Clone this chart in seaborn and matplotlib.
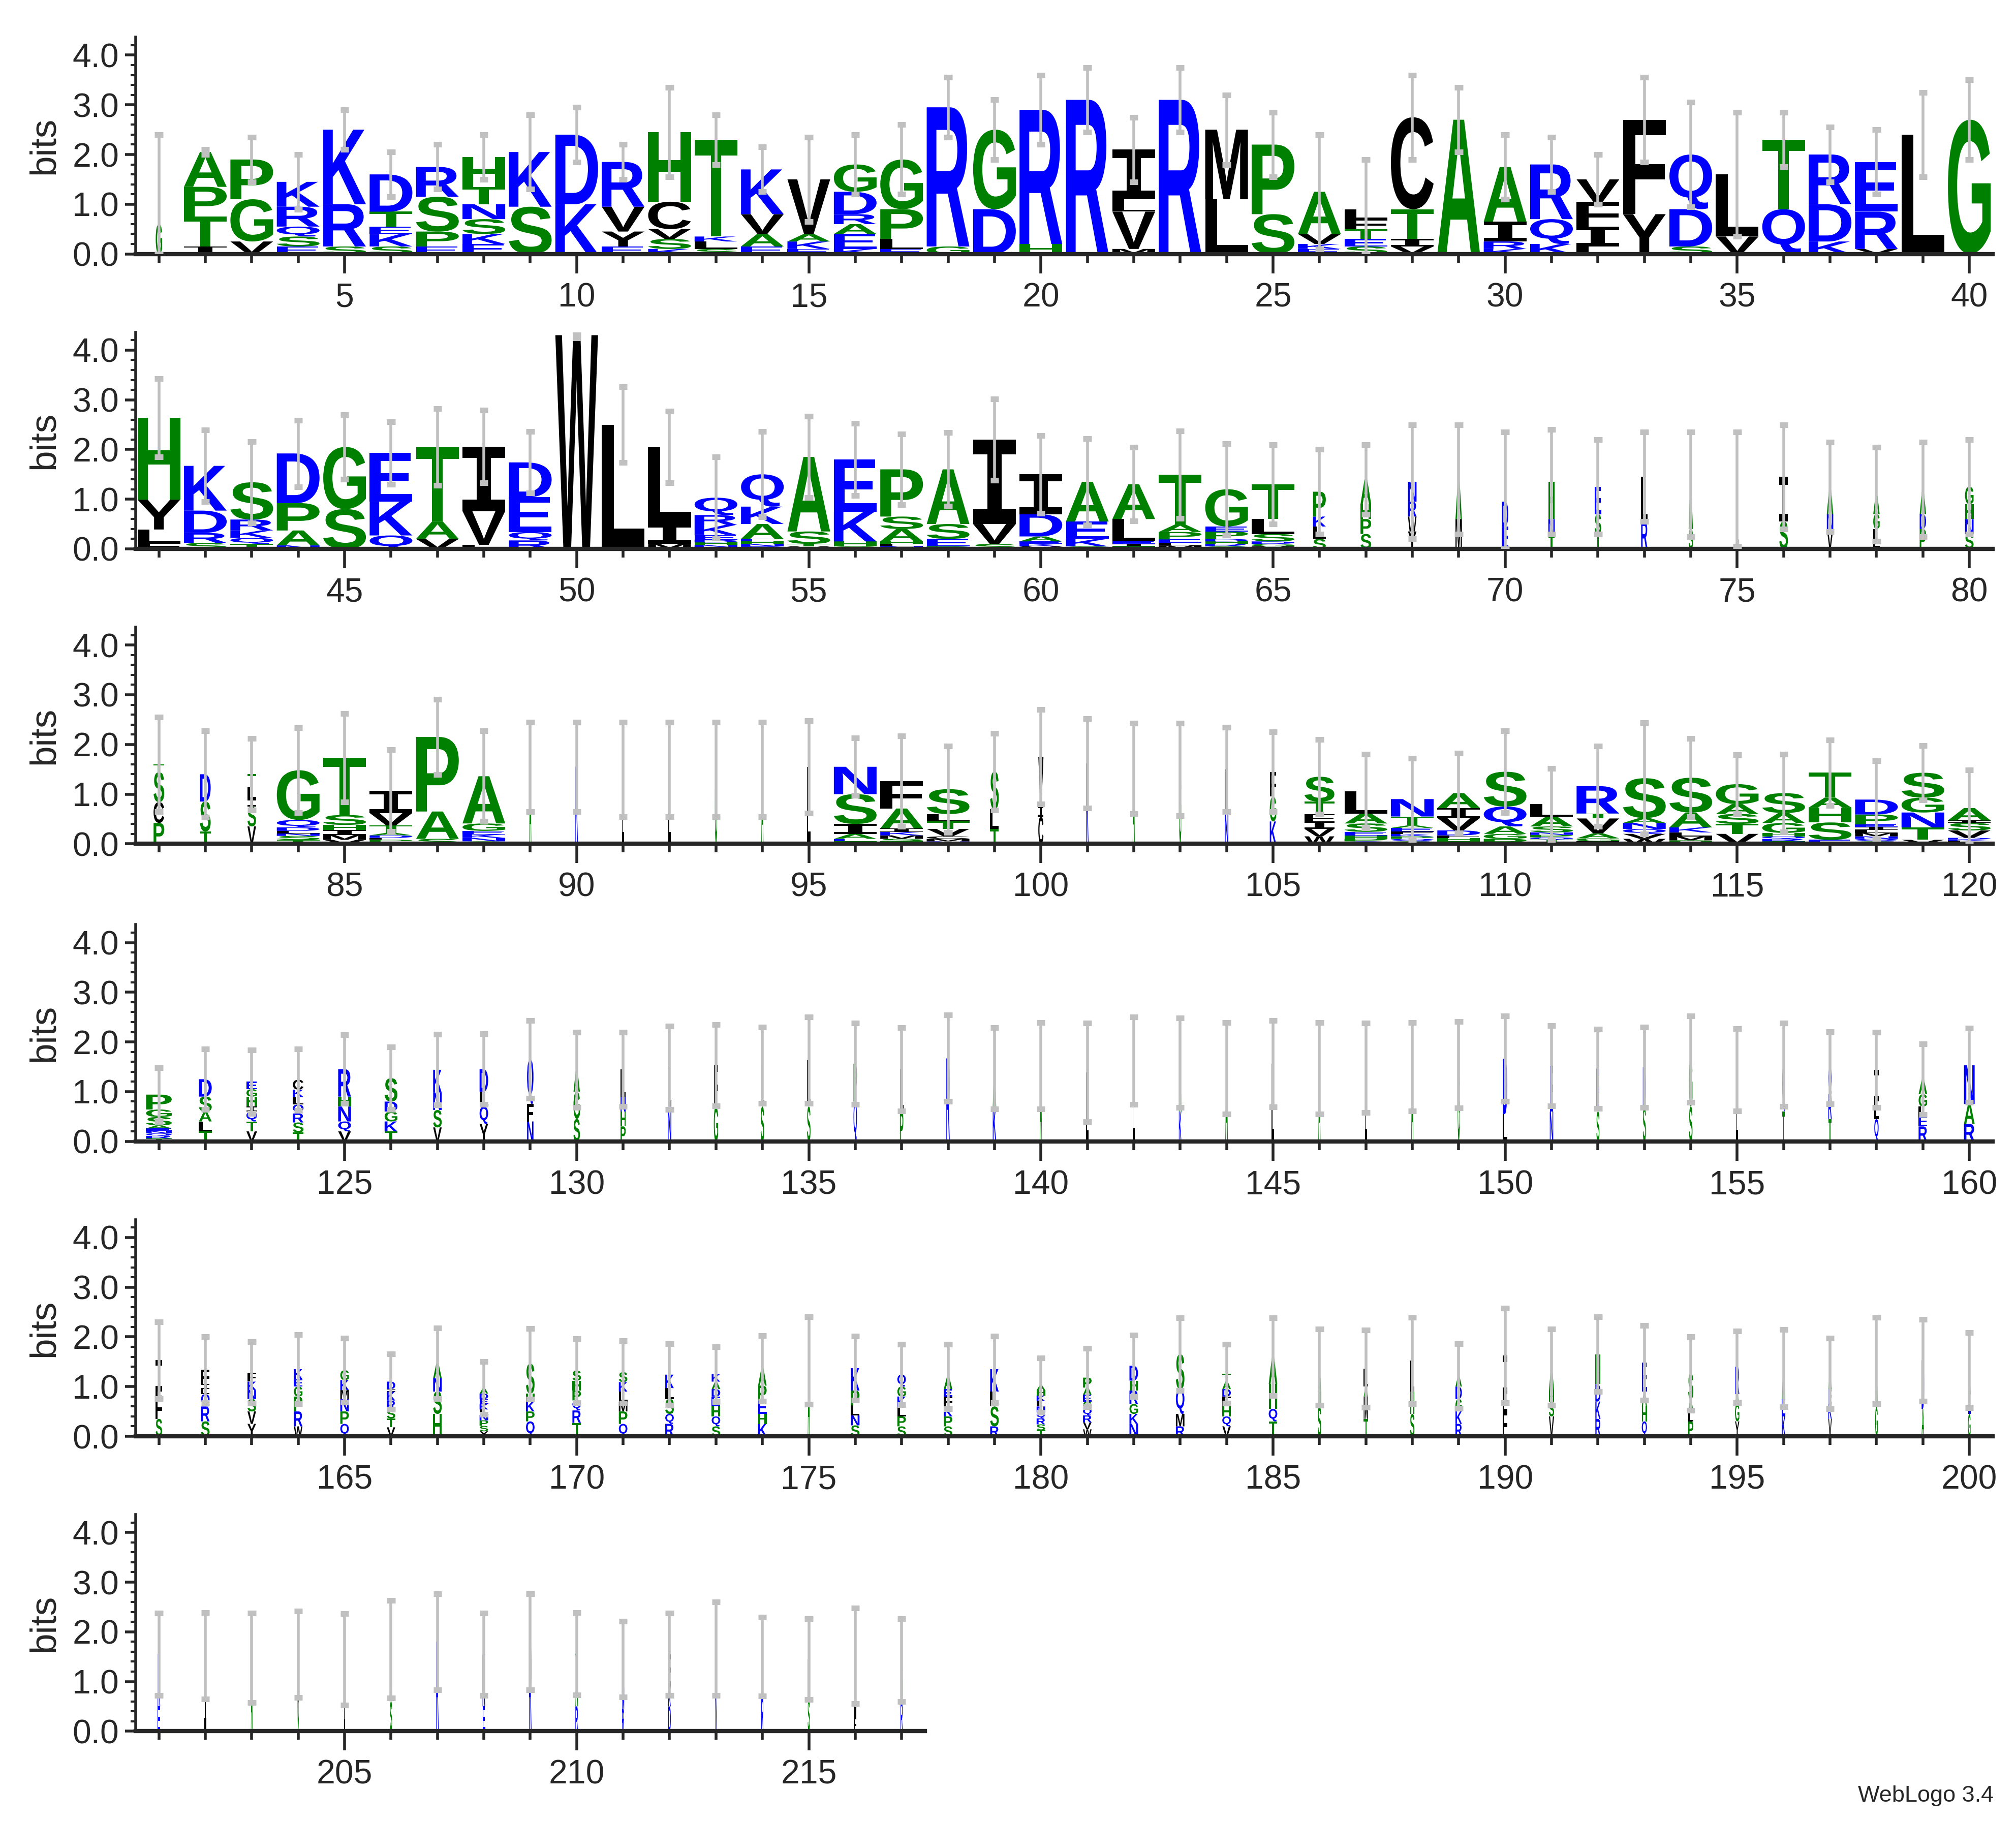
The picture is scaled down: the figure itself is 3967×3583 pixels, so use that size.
import matplotlib
matplotlib.use("Agg")
import matplotlib.pyplot as plt
import seaborn as sns
from matplotlib.textpath import TextPath
from matplotlib.patches import PathPatch
from matplotlib.font_manager import FontProperties
from matplotlib.transforms import Affine2D
from matplotlib.ticker import MultipleLocator

# ---- data: letter stacks (bottom->top, heights in bits), column widths, error-bar tops ----
stacks_1_40 = ["G.6", "I.15 T.6 P.6 A.7", "V.25 G.85 P.8", "E.15 S.2 Q.2 R.4 K.5", "S.15 R.85 K1.5",
    "S.15 K.25 E.15 T.3 D.75", "E.15 P.3 S.7 R.6", "E.2 K.2 S.3 N.3 T.35 H.6", "S.95 K1.1", "K1.0 D1.4",
    "E.15 Y.3 V.5 R.9", "K.1 S.2 V.2 C.55 H1.4", "S.1 L.15 K.1 T1.95", "E.15 A.25 V.4 K.9", "E.1 K.15 A.15 V1.1",
    "K.1 E.3 A.2 R.2 D.45 G.55", "E.1 L.2 P.6 G1.0", "G.15 R2.8", "D.9 G1.6", "H.2 R2.7",
    "R3.1", "M.1 V.75 L.25 I1.0", "R3.1", "L1.1 M1.4", "S.8 P1.4",
    "E.1 K.1 V.2 A.85", "S.15 E.15 T.2 F.2 L.2", "V.15 I.15 T.6 C1.85", "A2.7", "K.1 R.15 I.4 A1.1",
    "K.2 Q.5 R1.1", "L.15 I.4 F.5 V.45", "Y.8 F1.9", "S.15 D.75 Q1.1", "V.35 L1.25",
    "Q.9 T1.4", "K.25 D.75 R1.0", "V.1 R.75 E1.0", "L2.4", "G2.7"]
widths_1_40 = [0.15] + [1.0] * 39
errtop_1_40 = [2.4, 2.1, 2.35, 2.0, 2.9, 2.05, 2.2, 2.4, 2.8, 2.95, 2.2, 3.35, 2.8, 2.15, 2.35, 2.4, 2.6, 3.55, 3.1, 3.6,
    3.75, 2.75, 3.75, 3.2, 2.85, 2.4, 1.9, 3.6, 3.35, 2.4, 2.35, 2.0, 3.55, 3.05, 2.85, 2.85, 2.55, 2.5, 3.25, 3.5]

stacks_41_80 = ["F.12 L.27 Y.6 H1.65", "S.12 R.2 D.45 K.9", "T.1 Q.12 K.15 R.22 S.75", "N.07 A.3 P.55 D1.0",
    "S.8 G1.25", "Q.27 K.68 E.98", "V.2 A.35 T1.5", "L.08 V.68 I1.3", "R.17 Q.17 E.7 D.7", "W4.3",
    "L2.5", "M.1 I.4 L1.55", "T.03 N.05 H.05 D.05 E.1 K.2 R.2 Q.35", "R.05 N.05 H.05 E.05 A.3 K.35 Q.65",
    "V.05 T.05 S.25 A1.5", "S.05 H.1 K.6 E1.05", "N.05 L.05 H.05 A.25 S.25 P.95", "P.05 E.15 S.3 A1.1",
    "S.1 V.4 I1.7", "V.05 K.05 E.05 A.1 D.45 I.8", "S.05 K.15 E.35 A.8", "T.05 I.05 E.05 L.45 A.7",
    "M.07 L.05 E.07 P.15 A.15 T1.0", "S.05 R.05 H.05 D.05 P.15 E.1 G.75", "M.05 G.05 D.05 S.15 L.3 T.7",
    "S.2 L.25 K.2 P.5", "S.3 P.3 H.3 A.5", "Y.35 W.3 R.3 N.4", "M.6 A.8", "E.45 D.5",
    "T.25 N.35 H.75", "T.3 S.4 E.55", "R.55 L.9", "S.4 A.9", "L1.2",
    "S.55 I.9", "V.4 N.3 A.55", "L.4 G.3 A.4", "P.4 D.3 A.5", "S.3 N.3 H.3 G.35"]
widths_41_80 = [1.0] * 25 + [0.3, 0.25, 0.2, 0.15, 0.15, 0.15, 0.15, 0.15, 0.1, 0.06, 0.2, 0.15, 0.15, 0.15, 0.2]
errtop_41_80 = [3.43, 2.39, 2.16, 2.59, 2.7, 2.56, 2.82, 2.79, 2.36, 4.36, 3.26, 2.77, 1.85, 2.36, 2.67, 2.53, 2.31, 2.34,
    3.02, 2.28, 2.22, 2.04, 2.37, 2.12, 2.1, 2.0, 2.1, 2.5, 2.5, 2.35, 2.4, 2.2, 2.35, 2.35, 2.35, 2.5, 2.15, 2.05, 2.15, 2.2]

stacks_81_120 = ["P.42 C.42 S.6 T.16", "T.25 S.6 D.55", "V.35 S.4 I.15 L.25 T.25",
    "T.08 S.08 N.05 L.05 D.07 Q.15 G1.0", "V.08 M.1 I.1 H.1 S.2 T1.15", "Q.04 P.04 L.04 D.05 A.05 T.15 V.25 I.45",
    "S.1 A.55 P1.5", "S.05 N.07 K.07 E.07 G.15 A.95", "A1.55", "K1.55", "L1.5", "L1.5", "G1.5", "A1.5", "L1.55",
    "T.05 E.05 A.1 I.2 S.6 N.55", "T.05 S.05 M.07 K.07 I.07 A.4 F.55", "N.05 M.05 C.05 V.15 T.15 L.15 S.5",
    "T.3 L.4 S.75", "C.55 I.2 V1.0", "K1.62", "A1.52", "G1.5", "N.6 L.9", "K.45 G.5 F.5",
    "W.15 V.15 I.15 F.15 T.25 S.5", "Q.05 P.05 H.07 E.07 S.17 A.2 L.45",
    "S.05 Q.05 P.05 K.05 F.05 E.07 A.05 T.18 N.35", "T.05 H.07 F.05 D.1 V.25 I.2 A.3",
    "P.1 G.1 A.15 Q.4 S.7", "V.03 T.05 Q.05 P.05 N.05 S.12 A.2 L.25", "I.05 G.06 A.1 V.3 T.1 R.55",
    "W.1 V.1 Q.1 N.12 A.1 S.8", "P.07 M.08 L.08 K.1 A.3 S.7", "V.2 T.2 S.2 A.2 G.4",
    "T.05 R.05 Q.05 H.07 G.2 A.2 S.4", "E.08 S.35 H.3 A.2 T.5",
    "S.05 Q.05 N.05 M.07 L.06 I.06 E.05 P.2 D.3", "V.08 T.25 N.3 G.3 S.5",
    "N.03 L.03 K.03 D.03 V.15 S.15 I.05 A.25"]
widths_81_120 = [0.25, 0.25, 0.2, 1, 1, 1, 1, 1, 0.05, 0.06, 0.05, 0.05, 0.05, 0.05, 0.08, 1, 1, 1, 0.2, 0.12,
    0.06, 0.05, 0.05, 0.08, 0.15, 0.7] + [1.0] * 14
errtop_81_120 = [2.55, 2.27, 2.12, 2.33, 2.62, 1.89, 2.91, 2.27, 2.45, 2.45, 2.45, 2.45, 2.45, 2.45, 2.48, 2.13, 2.17, 1.97,
    2.22, 2.7, 2.52, 2.43, 2.43, 2.35, 2.25, 2.1, 1.8, 1.72, 1.82, 2.27, 1.52, 1.97, 2.44, 2.12, 1.79, 1.8, 2.09, 1.67,
    1.98, 1.49]

stacks_121_160 = ["T.06 R.05 Q.05 N.05 E.05 A.06 S.17 G.15 P.3", "T.2 L.2 A.2 S.3 D.35",
    "V.2 T.2 Q.2 I.1 H.2 G.15 E.15", "T.18 S.2 R.18 Q.18 L.15 K.15 C.2", "V.2 Q.2 N.3 H.2 R.55",
    "T.2 K.2 G.2 D.2 S.47", "V.28 S.35 N.35 K.46", "Y.35 Q.35 L.3 D.45", "N.4 F.35 Q.9", "S.45 G.55 A.44",
    "P.3 H.3 N.3 L.55", "N.7 L.78", "G.7 F.83", "S.7 L.83", "S.7 L.93", "Q.8 P.76", "P.6 L.85", "R1.67",
    "K.7 A.77", "A1.52", "L1.39", "L1.62", "K.6 A.98", "A1.47", "L1.56", "A1.47", "L1.48", "A1.5", "G1.54",
    "L.55 D1.11", "N.6 E.92", "S.6 E.86", "S.7 D.79", "S.7 G.95", "L1.44", "T.6 Q.94", "T.45 R.5 Q.53",
    "Q.45 L.35 I.64", "R.3 E.2 L.2 G.25 A.3", "R.35 A.4 N.78"]
widths_121_160 = [0.6, 0.3, 0.25, 0.25, 0.3, 0.3, 0.2, 0.2, 0.15, 0.15, 0.12, 0.08, 0.1, 0.08, 0.08, 0.08, 0.08, 0.08,
    0.08, 0.05, 0.05, 0.05, 0.06, 0.06, 0.06, 0.05, 0.05, 0.05, 0.05, 0.1, 0.08, 0.07, 0.07, 0.08, 0.05, 0.06, 0.08,
    0.1, 0.2, 0.25]
errtop_121_160 = [1.48, 1.86, 1.84, 1.86, 2.14, 1.9, 2.15, 2.16, 2.43, 2.2, 2.2, 2.32, 2.35, 2.3, 2.5, 2.38, 2.29, 2.54,
    2.29, 2.39, 2.38, 2.5, 2.48, 2.39, 2.43, 2.39, 2.38, 2.39, 2.41, 2.52, 2.33, 2.26, 2.3, 2.52, 2.27, 2.38, 2.21, 2.2,
    1.96, 2.28]

stacks_161_200 = ["S.35 F.45 L.1 I.63", "S.3 R.3 Q.25 L.1 I.1 F.29", "Y.25 V.25 S.25 N.18 K.17 F.18",
    "W.2 R.3 P.3 G.2 E.15 K.2", "Q.25 P.25 N.25 M.18 K.2 G.2", "V.18 T.18 S.18 R.18 K.18 I.05 D.15",
    "H.45 S.45 N.27 A.3", "Y.1 S.11 P.11 N.11 L.11 K.11 E.1 D.11 A.11", "Q.3 P.2 K.2 H.16 S.6",
    "T.27 R.25 Q.2 P.2 H.2 S.2", "Q.25 P.25 M.2 L.2 K.19 S.2", "R.25 Q.2 S.3 L.22 K.27",
    "S.2 Q.2 H.2 E.2 D.15 A.15 K.15", "K.25 H.2 E.27 P.3 A.35", "A1.52", "S.22 N.2 L.2 P.3 K.45",
    "S.2 P.2 L.2 K.2 G.2 Q.24", "S.2 P.2 K.2 F.2 E.15 A.25", "R.2 S.4 L.3 K.45",
    "T.12 S.12 R.12 Q.12 N.12 L.11 K.11 H.11 A.1", "W.14 V.14 R.14 Q.14 G.14 E.14 A.14 P.2",
    "N.25 K.2 G.2 R.27 H.2 D.3", "R.2 M.25 Q.5 S.7", "V.2 Q.2 H.2 F.2 D.15 A.16 T.15", "T.3 Q.25 H.5 A.55",
    "S.6 H.3 A.49", "T.35 M.45 A.2 L.36", "S.45 H.45 L.62", "R.25 K.25 G.25 D.25 A.21", "F.5 L.35 I.78",
    "V.4 S.3 H.2 A.49", "R.35 K.35 D.35 H.6", "Q.3 H.3 A.3 E.58", "P.3 L.2 A.25 S.51", "Y.3 G.35 A.2 R.55",
    "K.4 E.35 A.62", "V.35 K.3 E.3 A.31", "G.6 A.92", "A.55 D.98", "G.45 E.4 A.48"]
widths_161_200 = [0.15, 0.2, 0.2, 0.2, 0.2, 0.2, 0.2, 0.2, 0.2, 0.2, 0.2, 0.2, 0.2, 0.2, 0.05, 0.2, 0.2, 0.2, 0.2, 0.2,
    0.2, 0.2, 0.2, 0.2, 0.2, 0.08, 0.1, 0.1, 0.15, 0.1, 0.12, 0.12, 0.12, 0.12, 0.1, 0.08, 0.08, 0.06, 0.06, 0.06]
errtop_161_200 = [2.3, 2.0, 1.9, 2.05, 1.97, 1.66, 2.18, 1.5, 2.17, 1.96, 1.92, 1.86, 1.8, 2.03, 2.4, 2.01, 1.85, 1.85,
    2.02, 1.58, 1.77, 2.04, 2.38, 1.85, 2.38, 2.16, 2.14, 2.39, 1.86, 2.58, 2.16, 2.4, 2.23, 2.0, 2.12, 2.15, 1.97, 2.39,
    2.35, 2.09]

stacks_201_217 = ["E.5 R1.05", "I1.52", "A1.48", "G1.55", "L1.45", "S.6 A1.05", "R1.8", "E.5 K1.05", "R1.8",
    "R.5 A.86 T.2", "R.45 N.4 I.3 L.3", "D.5 K.4 E.65", "K1.66", "R.7 L.6 I.2", "S.65 K.8", "F.28 L1.24", "R.6 G.83"]
widths_201_217 = [0.06, 0.04, 0.04, 0.03, 0.03, 0.05, 0.06, 0.06, 0.06, 0.06, 0.05, 0.06, 0.04, 0.05, 0.05, 0.05, 0.05]
errtop_201_217 = [2.38, 2.39, 2.38, 2.42, 2.37, 2.63, 2.77, 2.38, 2.77, 2.39, 2.21, 2.38, 2.6, 2.29, 2.26, 2.48, 2.26]

rows = [
    (1, stacks_1_40, widths_1_40, errtop_1_40),
    (41, stacks_41_80, widths_41_80, errtop_41_80),
    (81, stacks_81_120, widths_81_120, errtop_81_120),
    (121, stacks_121_160, widths_121_160, errtop_121_160),
    (161, stacks_161_200, widths_161_200, errtop_161_200),
    (201, stacks_201_217, widths_201_217, errtop_201_217),
]

GREEN, BLUE, BLACK = "#008000", "#0000ff", "#000000"
color_map = {}
for c in "GSTAPH":
    color_map[c] = GREEN
for c in "KRDENQ":
    color_map[c] = BLUE
for c in "LVIMFWYC":
    color_map[c] = BLACK

sns.set_style("ticks")
plt.rcParams["font.family"] = ["Liberation Sans", "DejaVu Sans"]
fp = FontProperties(family="Liberation Sans", weight="bold")
fp_serif_i = FontProperties(family="DejaVu Sans Mono", weight="bold")
glyph_cache = {}


def glyph(ch):
    if ch not in glyph_cache:
        tp = TextPath((0, 0), ch, size=1, prop=fp_serif_i if ch == "I" else fp)
        ext = tp.get_extents()
        glyph_cache[ch] = (tp, ext)
    return glyph_cache[ch]


def draw_letter(ax, ch, xc, y0, w, h):
    tp, ext = glyph(ch)
    t = (Affine2D().translate(-ext.x0, -ext.y0)
         .scale(w / ext.width, h / ext.height)
         .translate(xc - w / 2, y0))
    ax.add_patch(PathPatch(t.transform_path(tp), facecolor=color_map[ch], edgecolor="none", lw=0, zorder=2))


W_IN, H_IN = 15.868, 14.332
fig = plt.figure(figsize=(W_IN, H_IN), dpi=250)
PX = 1420.0
baselines = [198, 428, 658, 890, 1120, 1350]
YMAX = 4.36
px_per_bit = 38.75
left = 104 / 1545
full_w = (1527 - 104) / 1545

for r, (start, stacks, widths, errtops) in enumerate(rows):
    n = len(stacks)
    axw = full_w * n / 40.0
    hgt = YMAX * px_per_bit / PX
    bottom = 1 - baselines[r] / PX
    ax = fig.add_axes([left, bottom, axw, hgt])
    ax.set_xlim(start - 0.5, start - 0.5 + n)
    ax.set_ylim(0, YMAX)
    for i, (s, w, et) in enumerate(zip(stacks, widths, errtops)):
        x = start + i
        y = 0.0
        for tok in s.split():
            ch, hh = tok[0], float(tok[1:])
            draw_letter(ax, ch, x, y, 0.92 * w, hh)
            y += hh
        e = et - y
        lo = max(y - e, 0)
        ax.vlines(x, lo, et, color="#c0c0c0", lw=1.6, zorder=3)
        ax.hlines([lo, et], x - 0.09, x + 0.09, color="#c0c0c0", lw=3.2, zorder=3)
    sns.despine(ax=ax, top=True, right=True)
    ax.spines["left"].set_linewidth(1.6)
    ax.spines["bottom"].set_linewidth(2.4)
    ax.set_yticks([0, 1, 2, 3, 4])
    ax.set_yticklabels(["0.0", "1.0", "2.0", "3.0", "4.0"], fontsize=19)
    ax.yaxis.set_minor_locator(MultipleLocator(0.2))
    majors = [p for p in range(start, start + n) if p % 5 == 0]
    ax.set_xticks(majors)
    ax.set_xticklabels([str(p) for p in majors], fontsize=19)
    ax.set_xticks(list(range(start, start + n)), minor=True)
    ax.tick_params(axis="x", which="major", length=11, width=1.6, pad=5)
    ax.tick_params(axis="x", which="minor", length=5, width=1.6)
    ax.tick_params(axis="y", which="major", length=6, width=1.6)
    ax.tick_params(axis="y", which="minor", length=3, width=1.2)
    ax.set_ylabel("bits", fontsize=21, labelpad=6)

fig.text(0.989, 0.008, "WebLogo 3.4", ha="right", va="bottom", fontsize=13)
fig.savefig("out.png", dpi=250)
